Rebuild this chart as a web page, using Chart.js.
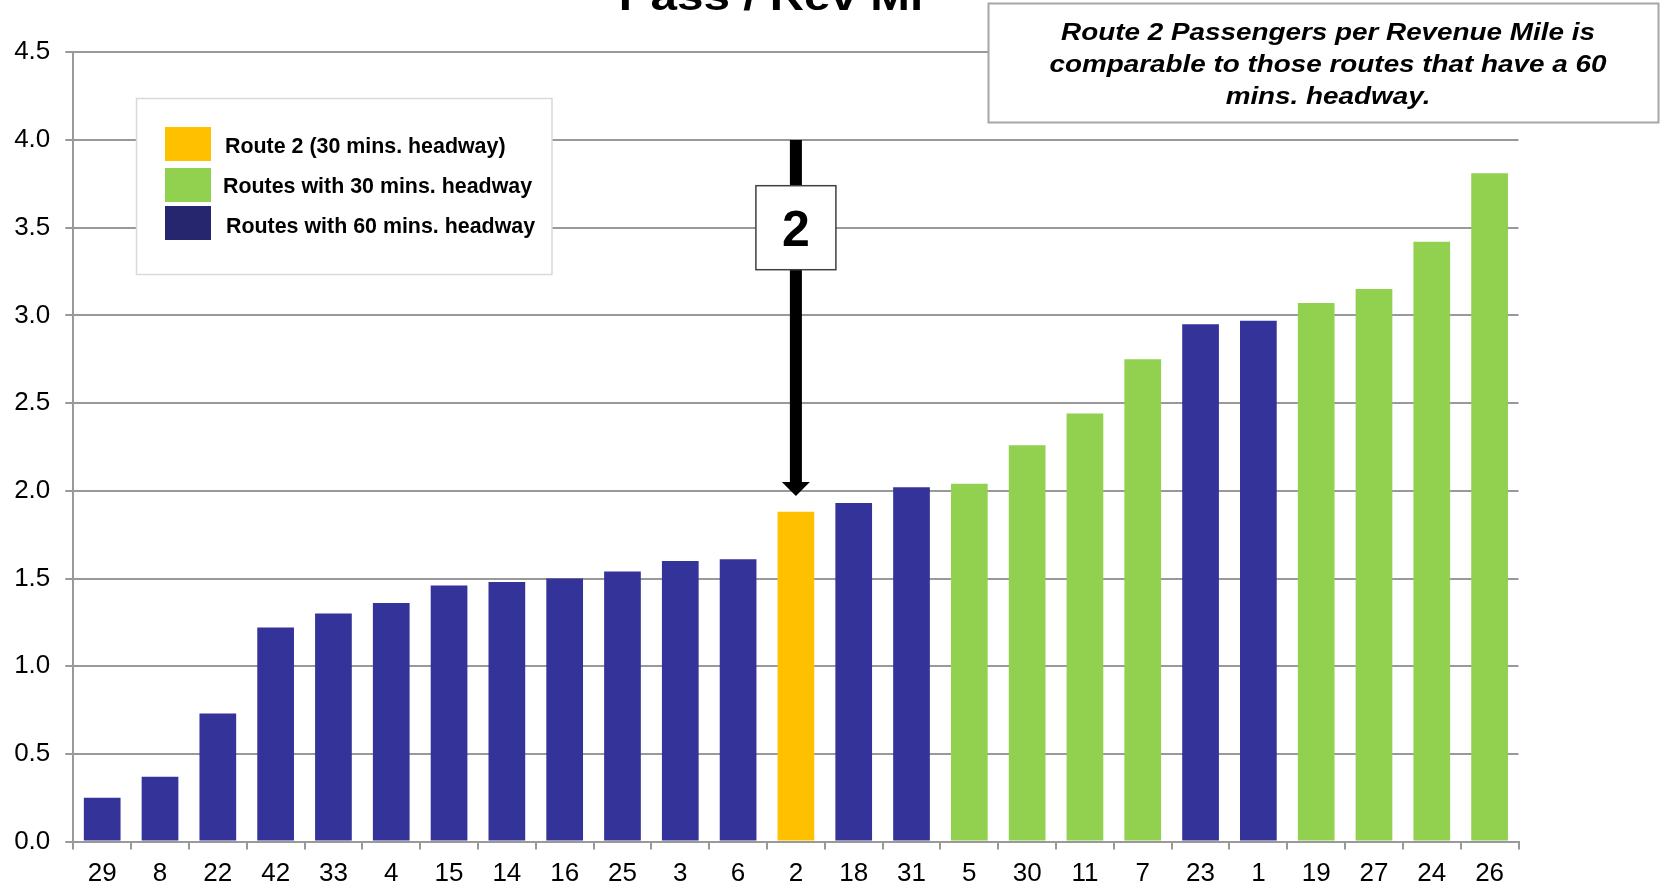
<!DOCTYPE html>
<html>
<head>
<meta charset="utf-8">
<title>Pass / Rev Mi</title>
<script src="https://cdn.jsdelivr.net/npm/chart.js@4/dist/chart.umd.min.js"></script>
<style>
  html, body { margin: 0; padding: 0; background: #ffffff; }
  #wrap { width: 1664px; height: 889px; }
</style>
</head>
<body>
<div id="wrap"><canvas id="chart" width="1664" height="889"></canvas></div>
<script>
// Routes, ordered by passengers per revenue mile
const routes = ['29', '8', '22', '42', '33', '4', '15', '14', '16', '25', '3', '6', '2',
                '18', '31', '5', '30', '11', '7', '23', '1', '19', '27', '24', '26'];
const passPerRevMi = [0.25, 0.37, 0.73, 1.22, 1.30, 1.36, 1.46, 1.48, 1.50, 1.54, 1.60, 1.61, 1.88,
                      1.93, 2.02, 2.04, 2.26, 2.44, 2.75, 2.95, 2.97, 3.07, 3.15, 3.42, 3.81];
const headwayGroup = ['60', '60', '60', '60', '60', '60', '60', '60', '60', '60', '60', '60', 'r2',
                      '60', '60', '30', '30', '30', '30', '60', '60', '30', '30', '30', '30'];
const yTicks = [0, 0.5, 1.0, 1.5, 2.0, 2.5, 3.0, 3.5, 4.0, 4.5];

const legendLabels = ['Route 2 (30 mins. headway)', 'Routes with 30 mins. headway', 'Routes with 60 mins. headway'];
const noteLines = ['Route 2 Passengers per Revenue Mile is', 'comparable to those routes that have a 60', 'mins. headway.'];
const chartTitle = 'Pass / Rev Mi';

// Callout arrow: which route it marks and the value range it spans
const calloutRoute = '2';
const calloutTop = 4.0;
const calloutTip = 1.97;
const calloutBoxAt = 3.5;

const groupColor = { r2: '#FFC000', '30': '#92D050', '60': '#333399' };
const legendColor = ['#FFC000', '#92D050', '#26266E'];
const barColors = headwayGroup.map(g => groupColor[g]);

const FONT = '"Liberation Sans", Arial, Helvetica, sans-serif';
Chart.defaults.font.family = FONT;

const overlay = {
  id: 'overlay',
  afterDraw(chart) {
    const ctx = chart.ctx;
    const xs = chart.scales.x, ys = chart.scales.y;
    ctx.save();

    // Title (partly above the visible canvas)
    ctx.save();
    ctx.fillStyle = '#000';
    ctx.font = 'bold 40px ' + FONT;
    ctx.textAlign = 'center';
    ctx.textBaseline = 'alphabetic';
    ctx.translate(771, 10);
    ctx.scale(1.19, 1);
    ctx.fillText(chartTitle, 0, 0);
    ctx.restore();

    // Legend box
    ctx.fillStyle = '#ffffff';
    ctx.fillRect(136.5, 98.5, 415.5, 176);
    ctx.strokeStyle = '#d9d9d9';
    ctx.lineWidth = 1.5;
    ctx.strokeRect(136.5, 98.5, 415.5, 176);
    const swTop = [127, 168, 206];
    const textBase = [152.7, 193.3, 233.3];
    const textLeft = [225, 223, 226];
    ctx.font = 'bold 21.4px ' + FONT;
    ctx.textAlign = 'left';
    ctx.textBaseline = 'alphabetic';
    legendLabels.forEach((lab, i) => {
      ctx.fillStyle = legendColor[i];
      ctx.fillRect(165, swTop[i], 46, 34);
      ctx.fillStyle = '#000';
      ctx.fillText(lab, textLeft[i], textBase[i]);
    });

    // Note box, top right
    ctx.fillStyle = '#ffffff';
    ctx.fillRect(988.5, 3.5, 670, 119);
    ctx.strokeStyle = '#a6a6a6';
    ctx.lineWidth = 2;
    ctx.strokeRect(988.5, 3.5, 670, 119);
    ctx.fillStyle = '#000';
    ctx.font = 'italic bold 24px ' + FONT;
    ctx.textAlign = 'center';
    ctx.textBaseline = 'alphabetic';
    noteLines.forEach((ln, i) => {
      ctx.save();
      ctx.translate(1328, 40 + i * 32);
      ctx.scale(1.16, 1);
      ctx.fillText(ln, 0, 0);
      ctx.restore();
    });

    // Callout arrow pointing at Route 2
    const cx = xs.getPixelForValue(routes.indexOf(calloutRoute));
    const yTop = ys.getPixelForValue(calloutTop);
    const yTip = ys.getPixelForValue(calloutTip);
    const headH = 14, headW = 28;
    ctx.fillStyle = '#000';
    ctx.fillRect(cx - 6, yTop, 12, (yTip - headH) - yTop);
    ctx.beginPath();
    ctx.moveTo(cx - headW / 2, yTip - headH);
    ctx.lineTo(cx + headW / 2, yTip - headH);
    ctx.lineTo(cx, yTip);
    ctx.closePath();
    ctx.fill();

    const by = ys.getPixelForValue(calloutBoxAt);
    ctx.fillStyle = '#ffffff';
    ctx.fillRect(cx - 40, by - 42, 80, 84);
    ctx.strokeStyle = '#404040';
    ctx.lineWidth = 1.5;
    ctx.strokeRect(cx - 40, by - 42, 80, 84);
    ctx.fillStyle = '#000';
    ctx.font = 'bold 50px ' + FONT;
    ctx.textAlign = 'center';
    ctx.textBaseline = 'alphabetic';
    ctx.fillText(calloutRoute, cx, by + 18);

    ctx.restore();
  }
};

new Chart(document.getElementById('chart'), {
  type: 'bar',
  data: {
    labels: routes,
    datasets: [{
      label: 'Pass / Rev Mi',
      data: passPerRevMi,
      backgroundColor: barColors,
      borderWidth: 0,
      barPercentage: 0.635,
      categoryPercentage: 1.0
    }]
  },
  options: {
    responsive: false,
    animation: false,
    devicePixelRatio: 1,
    layout: { padding: { top: 52.3, left: 0, right: 145.5, bottom: 0 } },
    plugins: {
      legend: { display: false },
      tooltip: { enabled: false },
      title: { display: false }
    },
    scales: {
      x: {
        offset: true,
        grid: { display: true, drawOnChartArea: false, drawTicks: true, tickLength: 8, color: '#999999', lineWidth: 2, offset: true },
        border: { display: true, color: '#999999', width: 2 },
        ticks: { color: '#000', font: { size: 26 }, padding: 9, maxRotation: 0, autoSkip: false },
        afterFit(s) { s.height = 47.4; s.paddingLeft = 0; s.paddingRight = 0; }
      },
      y: {
        min: 0,
        max: 4.5,
        afterBuildTicks(s) { s.ticks = yTicks.map(v => ({ value: v })); },
        grid: { color: '#999999', lineWidth: 2, tickLength: 8, drawTicks: true },
        border: { display: true, color: '#999999', width: 2 },
        ticks: { color: '#000', font: { size: 26 }, padding: 15, callback: v => Number(v).toFixed(1) },
        afterFit(s) { s.width = 73.3; s.paddingTop = 0; s.paddingBottom = 0; }
      }
    }
  },
  plugins: [overlay]
});
</script>
</body>
</html>
